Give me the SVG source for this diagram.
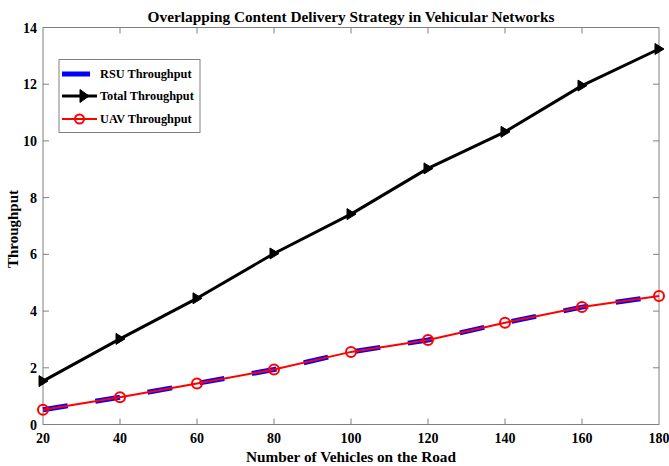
<svg xmlns="http://www.w3.org/2000/svg" width="669" height="466" viewBox="0 0 669 466">
<defs>
<style>
text{font-family:"Liberation Serif","Times New Roman",serif;font-weight:bold;fill:#000}
.tl{font-size:14px}
.ax{stroke:#808080;stroke-width:1;fill:none}
.rsu{stroke:#0000ff;stroke-width:5;fill:none;stroke-dasharray:25 28}
.tot{stroke:#000;stroke-width:3;fill:none;stroke-linejoin:round}
.uav{stroke:#ff0000;stroke-width:2;fill:none}
.tri{fill:#000;stroke:#000;stroke-width:1}
.circ{fill:none;stroke:#ff0000;stroke-width:2}
.lg{font-size:12.3px}
</style>
<marker id="mt" markerWidth="12" markerHeight="14" refX="5" refY="6.5" markerUnits="userSpaceOnUse" orient="0"><path d="M1,1 L10,6.5 L1,12 Z" class="tri"/></marker>
<marker id="mc" markerWidth="14" markerHeight="14" refX="7" refY="7" markerUnits="userSpaceOnUse"><circle cx="7" cy="7" r="5" class="circ"/></marker>
</defs>
<rect width="669" height="466" fill="#fff"/>
<g id="axes">
<rect x="43" y="27.5" width="616" height="397" class="ax"/>
<path class="ax" d="M120,424.5v-6M197,424.5v-6M274,424.5v-6M351,424.5v-6M428,424.5v-6M505,424.5v-6M582,424.5v-6M120,27.5v6M197,27.5v6M274,27.5v6M351,27.5v6M428,27.5v6M505,27.5v6M582,27.5v6M43,367.8h6M43,311.1h6M43,254.3h6M43,197.6h6M43,140.9h6M43,84.2h6M659,367.8h-6M659,311.1h-6M659,254.3h-6M659,197.6h-6M659,140.9h-6M659,84.2h-6"/>
<g class="tl" text-anchor="end">
<text x="37" y="430">0</text><text x="37" y="373">2</text><text x="37" y="316">4</text><text x="37" y="259">6</text><text x="37" y="203">8</text><text x="37" y="146">10</text><text x="37" y="89">12</text><text x="37" y="33">14</text>
</g>
<g class="tl" text-anchor="middle">
<text x="43" y="443">20</text><text x="120" y="443">40</text><text x="197" y="443">60</text><text x="274" y="443">80</text><text x="351" y="443">100</text><text x="428" y="443">120</text><text x="505" y="443">140</text><text x="582" y="443">160</text><text x="659" y="443">180</text>
</g>
<text x="351" y="462" text-anchor="middle" font-size="15.3">Number of Vehicles on the Road</text>
<text transform="translate(18,229) rotate(-90)" text-anchor="middle" font-size="15">Throughput</text>
<text x="351" y="22" text-anchor="middle" font-size="15.3">Overlapping Content Delivery Strategy in Vehicular Networks</text>
</g>
<g id="series">
<polyline id="rsu" class="rsu" points="43,409.8 120,397.3 197,383.4 274,369.5 351,351.9 428,340 505,322.7 582,307.1 659,296"/>
<polyline id="total" class="tot" marker-start="url(#mt)" marker-mid="url(#mt)" marker-end="url(#mt)" points="43,381.1 120,338.9 197,298.3 274,253.5 351,214.1 428,168.4 505,131.8 582,85.6 659,49"/>
<polyline id="uav" class="uav" marker-start="url(#mc)" marker-mid="url(#mc)" marker-end="url(#mc)" points="43,409.8 120,397.3 197,383.4 274,369.5 351,351.9 428,340 505,322.7 582,307.1 659,296"/>
</g>
<g id="legend">
<rect x="59" y="59.5" width="141" height="73" fill="#fff" stroke="#808080" stroke-width="1"/>
<line x1="62" y1="74" x2="90" y2="74" stroke="#0000ff" stroke-width="5"/>
<text x="100" y="78" class="lg">RSU Throughput</text>
<line x1="62" y1="96" x2="97" y2="96" class="tot"/>
<path d="M80,89.5 L89,96 L80,102.5 Z" class="tri"/>
<text x="100" y="100" class="lg">Total Throughput</text>
<line x1="62" y1="119" x2="97" y2="119" class="uav"/>
<circle cx="79.5" cy="119" r="4.5" class="circ"/>
<text x="100" y="123" class="lg">UAV Throughput</text>
</g>
</svg>
